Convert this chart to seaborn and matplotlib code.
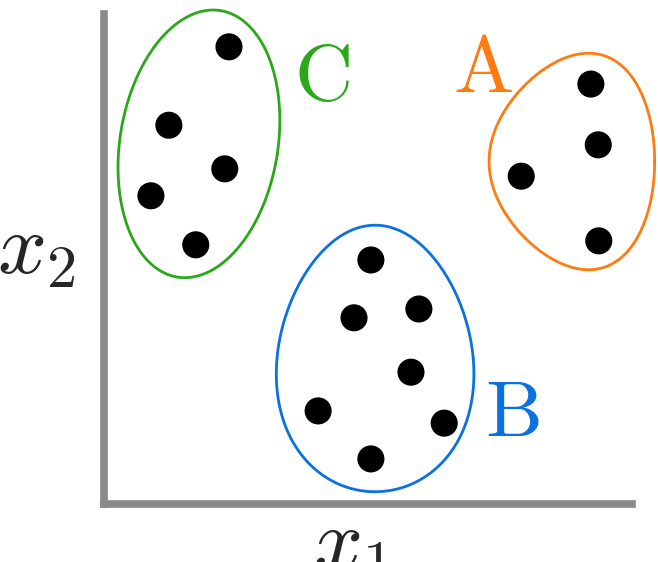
import numpy as np
import pandas as pd
import matplotlib.pyplot as plt
import seaborn as sns

sns.set_style("white")
plt.rcParams['mathtext.fontset'] = 'cm'

# --------------------------------
# Data (x1, x2 on a 0-10 scale)
# --------------------------------
clusters = ['A', 'B', 'C']
x1_A = [9.22, 9.36, 7.90, 9.37]
x2_A = [8.57, 7.33, 6.69, 5.37]
x1_B = [5.05, 4.73, 5.96, 5.81, 4.05, 6.44, 5.05]
x2_B = [4.98, 3.80, 3.98, 2.69, 1.90, 1.65, 0.92]
x1_C = [2.36, 1.22, 2.28, 0.88, 1.73]
x2_C = [9.33, 7.73, 6.84, 6.29, 5.29]

df = pd.DataFrame({
    'x1': x1_A + x1_B + x1_C,
    'x2': x2_A + x2_B + x2_C,
    'cluster': ['A'] * len(x1_A) + ['B'] * len(x1_B) + ['C'] * len(x1_C),
})

colors = {'A': '#ff7a10', 'B': '#0a72e0', 'C': '#2aa81a'}

# outline: centre, half sizes, egg factors, tilt (deg)
outlines = {
    'A': (8.86, 6.99, 1.57, 2.16, 0.0, 0.22, 0),
    'B': (5.13, 2.97, 1.86, 2.72, -0.12, 0.0, 0),
    'C': (1.79, 7.35, 1.50, 2.75, 0.0, 0.0, -8),
}
label_pos = {'A': (7.18, 8.86), 'B': (7.73, 1.84), 'C': (4.12, 8.69)}


def egg(cx, cy, a, b, ex, ey, ang):
    t = np.linspace(0, 2 * np.pi, 300)
    u = a * np.cos(t) * (1 + ex * np.sin(t))
    v = b * np.sin(t) * (1 + ey * np.cos(t))
    r = np.deg2rad(ang)
    return cx + u * np.cos(r) - v * np.sin(r), cy + u * np.sin(r) + v * np.cos(r)


# --------------------------------
# Plot
# --------------------------------
fig = plt.figure(figsize=(6.58, 5.62), dpi=100)
ax = fig.add_axes([104.5 / 658, 58 / 562, 527.5 / 658, 490 / 562])

sns.scatterplot(data=df, x='x1', y='x2', color='black', s=380,
                edgecolor='none', ax=ax, zorder=3, clip_on=False)

for c in clusters:
    xs, ys = egg(*outlines[c])
    ax.plot(xs, ys, color=colors[c], lw=2.0, clip_on=False)
    lx, ly = label_pos[c]
    ax.text(lx, ly, r'$\mathrm{%s}$' % c, color=colors[c], fontsize=58,
            ha='center', va='center')

ax.text(4.68, -1.31, r'$x_1$', fontsize=62, ha='center', va='baseline')
ax.text(-1.30, 4.71, r'$x_2$', fontsize=62, ha='center', va='baseline')

ax.set_xlim(0, 10)
ax.set_ylim(0, 10)
ax.set_xticks([])
ax.set_yticks([])
ax.set_xlabel('')
ax.set_ylabel('')
sns.despine(ax=ax)
for s in ['left', 'bottom']:
    ax.spines[s].set_color('#8a8a8a')
    ax.spines[s].set_linewidth(5.5)

fig.savefig('out.png', dpi=100)
